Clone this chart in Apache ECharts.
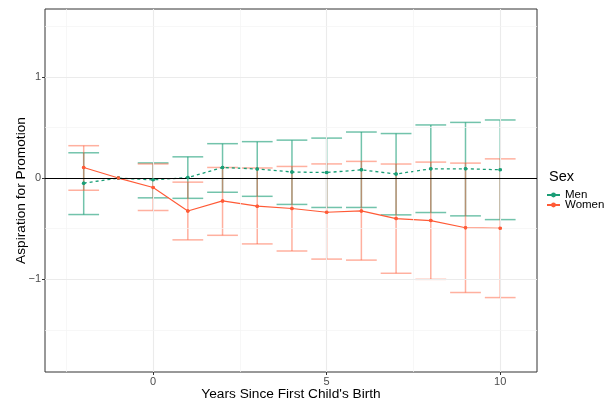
<!DOCTYPE html>
<html><head><meta charset="utf-8">
<script src="https://cdn.jsdelivr.net/npm/echarts@6/dist/echarts.min.js"></script>
<style>html,body{margin:0;padding:0;background:#fff}#c{width:611px;height:403px}</style>
</head><body><div id="c"></div>
<script>
var years = [-2,-1,0,1,2,3,4,5,6,7,8,9,10];
var menEst = [-0.05,0,-0.017,0.005,0.105,0.09,0.06,0.055,0.082,0.04,0.092,0.092,0.082];
var menLow = [-0.36,null,-0.195,-0.2,-0.14,-0.18,-0.26,-0.29,-0.29,-0.363,-0.34,-0.373,-0.41];
var menHigh = [0.25,null,0.15,0.21,0.34,0.36,0.375,0.395,0.455,0.44,0.525,0.55,0.574];
var womenEst = [0.105,0,-0.093,-0.325,-0.225,-0.277,-0.30,-0.337,-0.324,-0.40,-0.42,-0.49,-0.495];
var womenLow = [-0.12,null,-0.32,-0.61,-0.565,-0.65,-0.72,-0.80,-0.81,-0.94,-1.0,-1.13,-1.18];
var womenHigh = [0.32,null,0.14,-0.04,0.105,0.10,0.115,0.14,0.165,0.139,0.158,0.148,0.19];
var xTicks = [0,5,10];
var yTicks = [-1,0,1];
var xMinor = [-2.5,2.5,7.5];
var yMinor = [-1.5,-0.5,0.5,1.5];

var MEN = '#1b9e77', WOMEN = '#ff5a36';
var FONT = 'Liberation Sans, Arial, sans-serif';
var CAP = 0.443;

function pairs(est){ return years.map(function(y,i){ return [y, est[i]]; }); }
function ebData(lo,hi){
  var d=[]; years.forEach(function(y,i){ if(lo[i]!==null) d.push([y,lo[i],hi[i]]); }); return d;
}
function ebSeries(lo,hi,color,name,op){
  return {
    type:'custom', name:name, silent:true, z:2,
    data: ebData(lo,hi),
    encode:{x:0,y:[1,2]},
    renderItem:function(params,api){
      var x=api.value(0), l=api.value(1), h=api.value(2);
      var pl=api.coord([x,l]), ph=api.coord([x,h]);
      var a=api.coord([x-CAP,l]), b=api.coord([x+CAP,l]);
      var c=api.coord([x-CAP,h]), d=api.coord([x+CAP,h]);
      var st={stroke:color,lineWidth:1.5,opacity:op};
      return {type:'group',children:[
        {type:'line',shape:{x1:pl[0],y1:pl[1],x2:ph[0],y2:ph[1]},style:st},
        {type:'line',shape:{x1:a[0],y1:a[1],x2:b[0],y2:b[1]},style:st},
        {type:'line',shape:{x1:c[0],y1:c[1],x2:d[0],y2:d[1]},style:st}
      ]};
    }
  };
}
function gridLines(){
  var d=[];
  var maj={color:'#ebebeb',width:1.1,type:'solid'}, mn={color:'#f4f4f4',width:0.7,type:'solid'};
  xTicks.forEach(function(v){d.push({xAxis:v,lineStyle:maj});});
  xMinor.forEach(function(v){d.push({xAxis:v,lineStyle:mn});});
  yTicks.forEach(function(v){ if(v!==0) d.push({yAxis:v,lineStyle:maj});});
  yMinor.forEach(function(v){d.push({yAxis:v,lineStyle:mn});});
  return d;
}

var chart = echarts.init(document.getElementById('c'), null, {renderer:'canvas'});
chart.setOption({
  animation:false,
  backgroundColor:'#fff',
  textStyle:{fontFamily:FONT},
  grid:{left:45,right:74,top:9,bottom:31,show:true,borderColor:'#333',borderWidth:1,backgroundColor:'transparent',containLabel:false,outerBoundsMode:'none'},
  xAxis:{type:'value',min:-3.115,max:11.06,
    name:"Years Since First Child's Birth",nameLocation:'middle',nameGap:15,nameMoveOverlap:false,
    nameTextStyle:{fontSize:13.7,color:'#000',fontFamily:FONT},
    axisLine:{show:false,onZero:false},splitLine:{show:false},
    axisTick:{show:true,customValues:xTicks,length:3,lineStyle:{color:'#333'}},
    axisLabel:{customValues:xTicks,color:'#4d4d4d',fontSize:11,margin:4,fontFamily:FONT}},
  yAxis:{type:'value',min:-1.915,max:1.67,
    name:'Aspiration for Promotion',nameLocation:'middle',nameGap:17,nameRotate:90,nameMoveOverlap:false,
    nameTextStyle:{fontSize:13.7,color:'#000',fontFamily:FONT},
    axisLine:{show:false,onZero:false},splitLine:{show:false},
    axisTick:{show:true,customValues:yTicks,length:3,lineStyle:{color:'#333'}},
    axisLabel:{customValues:yTicks,color:'#4d4d4d',fontSize:11,margin:4,fontFamily:FONT,
      formatter:function(v){return v<0?'\u2212'+Math.abs(v):String(v);}}},
  legend:{orient:'vertical',left:546,top:189,itemWidth:13,itemHeight:6,itemGap:-2,padding:0,
    lineStyle:{type:'solid'},
    data:['Men','Women'],textStyle:{fontSize:11.5,color:'#000',fontFamily:FONT}},
  graphic:[{type:'text',left:549,top:169,style:{text:'Sex',fontSize:14.5,fill:'#000',fontFamily:FONT}}],
  series:[
    {type:'line',data:[],silent:true,z:0,
      markLine:{silent:true,symbol:'none',label:{show:false},data:gridLines(),animation:false}},
    ebSeries(menLow,menHigh,MEN,'MenEB',0.62),
    ebSeries(womenLow,womenHigh,WOMEN,'WomenEB',0.48),
    {type:'line',data:[],silent:true,z:3,
      markLine:{silent:true,symbol:'none',label:{show:false},data:[{yAxis:0}],lineStyle:{color:'#000',width:1.2,type:'solid'},animation:false}},
    {name:'Men',type:'line',data:pairs(menEst),z:4,symbol:'circle',symbolSize:3.5,showSymbol:true,showAllSymbol:true,clip:false,
      itemStyle:{color:MEN,borderWidth:0},lineStyle:{color:MEN,width:1.3,type:[3,3]}},
    {name:'Women',type:'line',data:pairs(womenEst),z:4,symbol:'circle',symbolSize:3.5,showSymbol:true,showAllSymbol:true,clip:false,
      itemStyle:{color:WOMEN,borderWidth:0},lineStyle:{color:WOMEN,width:1.1}},
    {type:'scatter',data:pairs(menEst),z:5,symbol:'circle',symbolSize:3.5,silent:true,itemStyle:{color:MEN,opacity:1}},
    {type:'scatter',data:pairs(womenEst),z:5,symbol:'circle',symbolSize:3.5,silent:true,itemStyle:{color:WOMEN,opacity:1}}
  ]
});
</script></body></html>
